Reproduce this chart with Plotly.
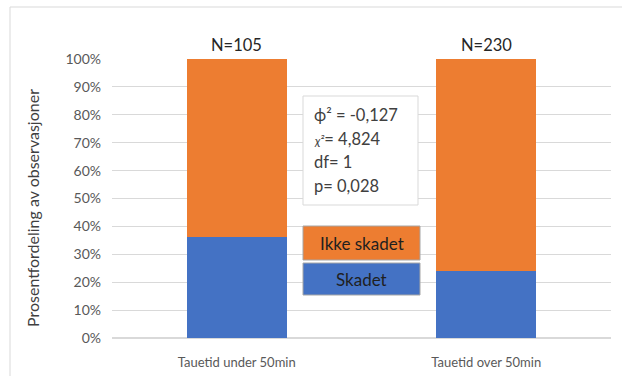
import plotly.graph_objects as go

# Data: share of observations by tow time group
categories = ["Tauetid under 50min", "Tauetid over 50min"]
n_obs = [105, 230]
skadet = [0.362, 0.239]
ikke_skadet = [0.638, 0.761]
y_ticks = [0, 0.1, 0.2, 0.3, 0.4, 0.5, 0.6, 0.7, 0.8, 0.9, 1.0]
y_title = "Prosentfordeling av observasjoner"
stats_lines = [
    "ϕ² = -0,127",
    "<span style='font-size:12px'><i>χ²</i></span>= 4,824",
    "df= 1",
    "p= 0,028",
]

BLUE = "#4472C4"
ORANGE = "#ED7D31"
GRID = "#D9D9D9"
FONT = "Lato, Open Sans, sans-serif"

# Plot area in pixels
PX_L, PX_R, PX_T, PX_B = 112, 611, 59, 338
W, H = 622, 376

def px(xp):
    return (xp - PX_L) / (PX_R - PX_L)

def py(yp):
    return (PX_B - yp) / (PX_B - PX_T)

fig = go.Figure()
fig.add_trace(go.Bar(x=categories, y=skadet, name="Skadet",
                     marker=dict(color=BLUE, line=dict(width=0))))
fig.add_trace(go.Bar(x=categories, y=ikke_skadet, name="Ikke skadet",
                     marker=dict(color=ORANGE, line=dict(width=0))))

# N labels above each bar
for cat, n in zip(categories, n_obs):
    fig.add_annotation(x=cat, y=1.0, xref="x", yref="y", text=f"N={n}",
                       showarrow=False, yanchor="bottom", yshift=2,
                       font=dict(family=FONT, size=16.5, color="#262626"))

# Y axis title, placed explicitly
fig.add_annotation(x=px(32), y=py(208), xref="paper", yref="paper",
                   xanchor="center", yanchor="middle", textangle=-90,
                   text=y_title, showarrow=False,
                   font=dict(family=FONT, size=16, color="#404040"))

# Statistics box
fig.add_shape(type="rect", xref="paper", yref="paper",
              x0=px(303), x1=px(418), y0=py(96), y1=py(205),
              fillcolor="white", line=dict(color=GRID, width=1), layer="above")
for i, line in enumerate(stats_lines):
    fig.add_annotation(x=px(312), y=py(115 + 23.5 * i), xref="paper", yref="paper",
                       xanchor="left", yanchor="middle", text=line,
                       showarrow=False,
                       font=dict(family=FONT, size=16.5, color="#404040"))

# Legend-style labelled boxes
for label, color, top, bottom in [("Ikke skadet", ORANGE, 226, 260),
                                  ("Skadet", BLUE, 263, 295)]:
    fig.add_shape(type="rect", xref="paper", yref="paper",
                  x0=px(303), x1=px(420), y0=py(top), y1=py(bottom),
                  fillcolor=color, line=dict(color="#A6A6A6", width=1),
                  layer="above")
    fig.add_annotation(x=px(361.5), y=py((top + bottom) / 2), xref="paper",
                       yref="paper", xanchor="center", yanchor="middle",
                       text=label, showarrow=False,
                       font=dict(family=FONT, size=17, color="#1F1F1F"))

# Outer chart frame (left and top edges)
fig.add_shape(type="line", xref="paper", yref="paper",
              x0=px(10), x1=px(10), y0=py(7), y1=py(400),
              line=dict(color=GRID, width=1))
fig.add_shape(type="line", xref="paper", yref="paper",
              x0=px(10), x1=px(640), y0=py(7), y1=py(7),
              line=dict(color=GRID, width=1))

fig.update_layout(
    width=W, height=H,
    margin=dict(l=PX_L, r=W - PX_R, t=PX_T, b=H - PX_B, autoexpand=False),
    paper_bgcolor="white", plot_bgcolor="white",
    barmode="stack", bargap=0.6, showlegend=False,
    font=dict(family=FONT, color="#595959"),
)

fig.update_yaxes(range=[0, 1], tickvals=y_ticks, tickformat=".0%",
                 showgrid=True, gridcolor=GRID, gridwidth=1,
                 zeroline=True, zerolinecolor=GRID, showline=False,
                 ticklabelstandoff=10, automargin=False,
                 tickfont=dict(family=FONT, size=14, color="#595959"))
fig.update_xaxes(showgrid=False, showline=False, ticks="",
                 ticklabelstandoff=15, automargin=False,
                 tickfont=dict(family=FONT, size=13, color="#595959"))

fig.write_html("out.html")
